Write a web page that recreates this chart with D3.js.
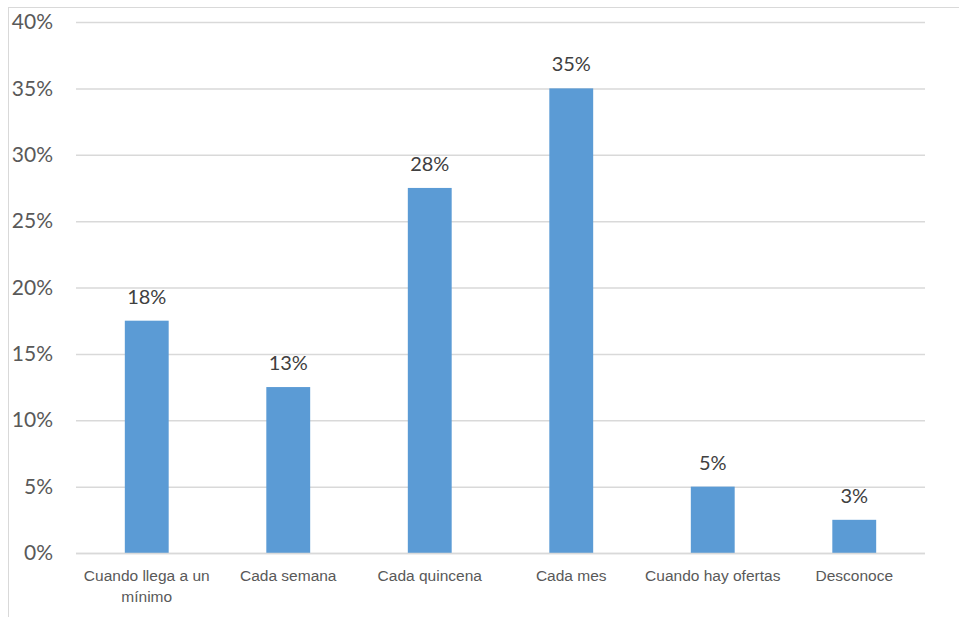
<!DOCTYPE html>
<html><head><meta charset="utf-8">
<script src="https://cdn.jsdelivr.net/npm/d3@7"></script>
<style>body{margin:0;background:#fff}svg{display:block}</style>
</head><body>
<script>
const categories = [["Cuando llega a un","mínimo"],["Cada semana"],["Cada quincena"],["Cada mes"],["Cuando hay ofertas"],["Desconoce"]];
const values = [17.5, 12.5, 27.5, 35, 5, 2.5];
const valueLabels = ["18%","13%","28%","35%","5%","3%"];
const yTicks = [0,5,10,15,20,25,30,35,40];

(function(){
const W = 959, H = 617;
const svg = d3.select("body").append("svg").attr("width", W).attr("height", H);
svg.append("rect").attr("x",8.5).attr("y",7.5).attr("width",1000).attr("height",1000)
  .attr("fill","none").attr("stroke","#d9d9d9").attr("stroke-width",1);

const pLeft = 76, pRight = 925, pTop = 22, pBottom = 553;
const x = d3.scaleBand().domain(d3.range(categories.length)).range([pLeft, pRight]).paddingInner(0.69).paddingOuter(0.345);
const y = d3.scaleLinear().domain([0,40]).range([pBottom, pTop]);

const yAxis = d3.axisLeft(y).tickValues(yTicks).tickFormat(d => d + "%").tickSize(-(pRight-pLeft)).tickPadding(23);
const gy = svg.append("g").attr("transform", `translate(${pLeft},0)`).call(yAxis);
gy.select(".domain").remove();
gy.selectAll(".tick line").attr("stroke","#d9d9d9").attr("stroke-width",1.5);
gy.selectAll(".tick text").attr("fill","#595959").style("font-family","Lato, 'Open Sans', sans-serif").style("font-size","21px");

svg.selectAll("rect.bar").data(values).enter().append("rect").attr("class","bar")
  .attr("x",(d,i)=>x(i)).attr("width",x.bandwidth())
  .attr("y",d=>y(d)).attr("height",d=>pBottom-y(d)).attr("fill","#5b9bd5");

svg.append("line").attr("x1",pLeft).attr("x2",pRight).attr("y1",pBottom+0.5).attr("y2",pBottom+0.5)
  .attr("stroke","#d9d9d9").attr("stroke-width",1.5);

svg.selectAll("text.val").data(values).enter().append("text").attr("class","val")
  .attr("x",(d,i)=>x(i)+x.bandwidth()/2).attr("y",d=>y(d)-17)
  .attr("text-anchor","middle").attr("fill","#404040")
  .style("font-family","Lato, 'Open Sans', sans-serif").style("font-size","20px")
  .text((d,i)=>valueLabels[i]);

const cg = svg.selectAll("text.cat").data(categories).enter().append("text").attr("class","cat")
  .attr("x",(d,i)=>x(i)+x.bandwidth()/2).attr("y",581)
  .attr("text-anchor","middle").attr("fill","#595959")
  .style("font-family","'Liberation Sans Narrow', 'Arial Narrow', 'Liberation Sans', sans-serif").style("font-size","15.5px");
cg.each(function(d,i){
  const t = d3.select(this);
  d.forEach((line,j)=>{
    t.append("tspan").attr("x", x(i)+x.bandwidth()/2).attr("dy", j===0?0:21).text(line);
  });
});
})();
</script>
</body></html>
